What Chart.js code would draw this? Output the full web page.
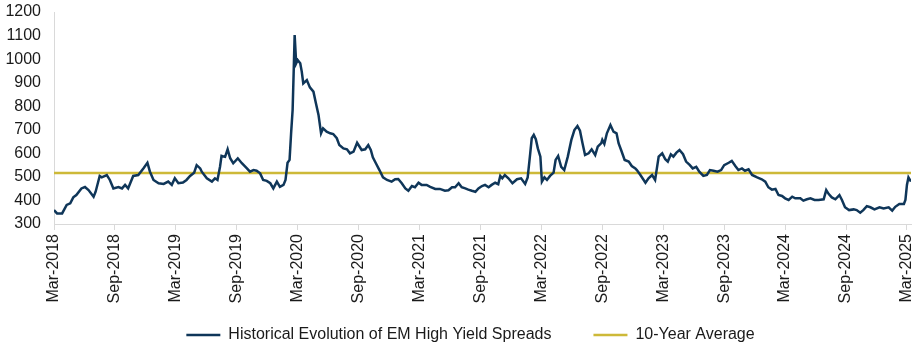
<!DOCTYPE html>
<html>
<head>
<meta charset="utf-8">
<script src="https://cdn.jsdelivr.net/npm/chart.js@4.4.1/dist/chart.umd.min.js"></script>
<style>
  html, body { margin: 0; padding: 0; background: #fff; }
  #wrap { position: relative; width: 920px; height: 353px; }
</style>
</head>
<body>
<div id="wrap"><canvas id="chart"></canvas></div>
<script>
// ── Data (months since Mar-2018, spread in bps) ──
var spreadMonths = [
  0.0, 0.3, 0.8, 1.25, 1.6, 1.9, 2.2, 2.7, 3.05, 3.4, 3.9, 4.1, 4.5, 4.7, 5.2, 5.5, 5.85,
  6.35, 6.7, 7.0, 7.3, 7.8, 8.3, 8.8, 9.2, 9.45, 9.8, 10.3, 10.8, 11.25, 11.6, 11.9,
  12.25, 12.7, 13.05, 13.4, 13.8, 14.05, 14.4, 14.55, 15.05, 15.55, 15.85, 16.1, 16.35,
  16.5, 16.85, 17.1, 17.35, 17.65, 18.1, 18.5, 19.0, 19.3, 19.65, 19.95, 20.3, 20.6,
  20.95, 21.3, 21.6, 21.95, 22.25, 22.6, 22.8, 23.0, 23.2, 23.35, 23.5, 23.6, 23.7,
  23.85, 24.0, 24.25, 24.4, 24.55, 24.9, 25.2, 25.55, 25.8, 26.05, 26.3, 26.5, 26.85,
  27.2, 27.5, 27.85, 28.1, 28.5, 28.85, 29.15, 29.5, 29.85, 30.3, 30.65, 30.95, 31.2,
  31.4, 31.7, 32.05, 32.4, 32.8, 33.25, 33.6, 33.9, 34.25, 34.6, 34.9, 35.25, 35.55,
  35.9, 36.2, 36.7, 37.05, 37.55, 38.0, 38.5, 38.85, 39.2, 39.5, 39.85, 40.15, 40.5,
  40.8, 41.15, 41.5, 41.8, 42.15, 42.45, 42.8, 43.1, 43.45, 43.75, 43.95, 44.15, 44.4,
  44.75, 45.15, 45.6, 46.0, 46.4, 46.65, 46.9, 47.05, 47.25, 47.45, 47.65, 47.9, 48.05,
  48.3, 48.55, 48.85, 49.2, 49.4, 49.65, 49.95, 50.25, 50.6, 50.95, 51.25, 51.55, 51.8,
  52.05, 52.3, 52.65, 52.95, 53.3, 53.55, 53.9, 54.0, 54.2, 54.45, 54.8, 55.1, 55.4,
  55.6, 55.85, 56.2, 56.6, 56.9, 57.25, 57.4, 57.75, 58.25, 58.55, 58.9, 59.2, 59.55,
  59.9, 60.2, 60.45, 60.75, 61.0, 61.3, 61.6, 61.95, 62.25, 62.6, 62.9, 63.25, 63.55,
  63.95, 64.3, 64.6, 64.95, 65.35, 65.7, 66.0, 66.45, 66.75, 67.1, 67.4, 67.75, 68.05,
  68.4, 68.75, 69.25, 69.7, 70.05, 70.35, 70.7, 71.05, 71.35, 71.7, 72.0, 72.35, 72.7,
  73.0, 73.5, 73.8, 74.15, 74.5, 74.9, 75.3, 75.8, 76.05, 76.3, 76.6, 76.95, 77.35,
  77.6, 77.9, 78.3, 78.75, 79.05, 79.4, 79.7, 80.05, 80.4, 80.8, 81.3, 81.7, 82.2,
  82.55, 82.85, 83.25, 83.7, 83.85, 84.0, 84.15, 84.4
];
var spreadValues = [
  359, 345, 345, 381, 388, 413, 423, 451, 457, 444, 416, 437, 504, 498, 508, 487, 451,
  457, 451, 466, 451, 504, 508, 536, 560, 522, 487, 473, 470, 480, 466, 494,
  473, 476, 487, 504, 518, 550, 536, 522, 494, 480, 494, 487, 543,
  589, 585, 617, 579, 558, 579, 558, 536, 522, 529, 526, 515, 487,
  483, 473, 451, 480, 458, 466, 487, 560, 572, 685, 784, 940, 1102,
  982, 996, 982, 947, 897, 911, 880, 862, 812, 763, 685, 706, 692,
  685, 682, 664, 635, 621, 617, 600, 607, 645, 614, 617, 635, 614,
  583, 558, 529, 498, 487, 480, 490, 491, 473, 451, 441, 461, 456,
  475, 466, 466, 458, 449, 449, 441, 443, 456, 456, 473, 456, 451,
  446, 441, 437, 451, 461, 466, 456, 466, 475, 469, 504, 494, 508,
  494, 473, 490, 494, 470, 498, 600, 664, 678, 660, 621, 586, 480,
  498, 487, 504, 518, 572, 589, 543, 529, 586, 657, 699, 716, 696,
  643, 593, 600, 617, 593, 628, 643, 657, 640, 685, 720, 692, 685,
  643, 614, 572, 565, 546, 536, 529, 508, 475, 494, 508, 487, 586,
  600, 575, 565, 596, 586, 603, 614, 596, 565, 551, 536, 543, 522,
  504, 508, 529, 526, 522, 529, 550, 560, 568, 546, 529, 536, 526,
  532, 508, 498, 490, 480, 456, 446, 449, 423, 419, 409, 402, 416,
  409, 409, 399, 405, 409, 402, 402, 405, 444, 427, 413, 405, 423,
  402, 371, 359, 362, 359, 348, 359, 376, 371, 362, 371, 366, 371,
  357, 373, 385, 385, 402, 466, 498, 480
];

var avgValue = 517;
var avgMonths = [0, 84.4];

var xTickMonths = [0, 6, 12, 18, 24, 30, 36, 42, 48, 54, 60, 66, 72, 78, 84];
var xTickLabels = [
  'Mar-2018', 'Sep-2018', 'Mar-2019', 'Sep-2019', 'Mar-2020', 'Sep-2020', 'Mar-2021',
  'Sep-2021', 'Mar-2022', 'Sep-2022', 'Mar-2023', 'Sep-2023', 'Mar-2024', 'Sep-2024', 'Mar-2025'
];

var yMin = 300, yMax = 1200, yStep = 100;

(function () {
  'use strict';

  // ── Palette ──
  var COLORS = {
    spread: '#0f3659',
    avg:    '#cdb938',
    axis:   '#d9d9d9',
    text:   '#1a1a1a'
  };
  var FONT = { family: '"Liberation Sans", Arial, sans-serif', size: 16 };

  function _points(xs, ys) {
    var out = [];
    for (var i = 0; i < xs.length; i++) out.push({ x: xs[i], y: ys[i] });
    return out;
  }

  var avgPoints = [];
  for (var a = 0; a < avgMonths.length; a++) avgPoints.push({ x: avgMonths[a], y: avgValue });

  // The legend keeps a wide label padding (for the gap between items), which also
  // pushes its row down; it is laid out short (maxHeight) and then moved up here.
  var legendShift = {
    id: 'legendShift',
    afterLayout: function (chart) {
      var lg = chart.legend;
      if (!lg) return;
      lg.left += 15;
      lg.right += 15;
      lg.top -= 19;
    }
  };

  var ctx = document.getElementById('chart').getContext('2d');
  new Chart(ctx, {
    type: 'line',
    data: {
      datasets: [
        {
          label: 'Historical Evolution of EM High Yield Spreads',
          data: _points(spreadMonths, spreadValues),
          borderColor: COLORS.spread,
          backgroundColor: COLORS.spread,
          borderWidth: 2.5,
          pointRadius: 0,
          pointStyle: 'line',
          tension: 0,
          order: 1
        },
        {
          label: '10-Year Average',
          data: avgPoints,
          borderColor: COLORS.avg,
          backgroundColor: COLORS.avg,
          borderWidth: 2.5,
          pointRadius: 0,
          pointStyle: 'line',
          tension: 0,
          order: 2
        }
      ]
    },
    plugins: [legendShift],
    options: {
      responsive: true,
      maintainAspectRatio: false,
      animation: false,
      layout: { padding: { top: 12, right: 9, left: 0, bottom: 0 } },
      plugins: {
        tooltip: { enabled: false },
        legend: {
          display: true,
          position: 'bottom',
          maxHeight: 49,
          labels: {
            color: COLORS.text,
            font: FONT,
            usePointStyle: true,
            pointStyleWidth: 34,
            boxHeight: 16,
            padding: 42
          }
        }
      },
      scales: {
        x: {
          type: 'linear',
          min: avgMonths[0],
          max: avgMonths[1],
          afterBuildTicks: function (scale) {
            scale.ticks = xTickMonths.map(function (v) { return { value: v }; });
          },
          afterFit: function (scale) {
            scale.height = 80;
            scale.paddingLeft = 0;
            scale.paddingRight = 0;
          },
          ticks: {
            color: COLORS.text,
            font: FONT,
            autoSkip: false,
            minRotation: 90,
            maxRotation: 90,
            padding: 4,
            callback: function (v) {
              var idx = xTickMonths.indexOf(v);
              return idx >= 0 ? xTickLabels[idx] : '';
            }
          },
          grid: {
            display: true,
            drawOnChartArea: false,
            drawTicks: true,
            tickLength: 6,
            color: COLORS.axis
          },
          border: { color: COLORS.axis, width: 1 }
        },
        y: {
          min: yMin,
          max: yMax,
          afterFit: function (scale) {
            scale.width = 54;
            scale.paddingTop = 0;
            scale.paddingBottom = 0;
          },
          ticks: {
            stepSize: yStep,
            autoSkip: false,
            color: COLORS.text,
            font: FONT,
            padding: 13,
            callback: function (v) { return String(v); }
          },
          grid: { display: false, drawTicks: false },
          border: { color: COLORS.axis, width: 1 }
        }
      }
    }
  });
})();
</script>
</body>
</html>
